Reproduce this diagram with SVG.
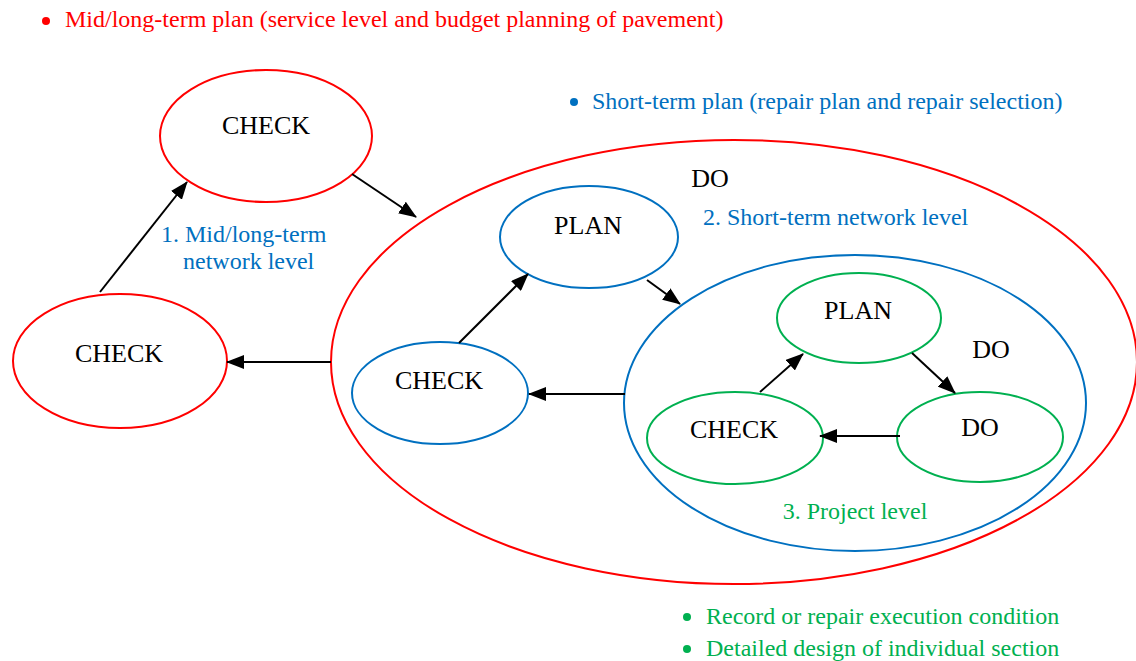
<svg xmlns="http://www.w3.org/2000/svg" width="1136" height="661" viewBox="0 0 1136 661">
<defs>
<style>
.t{font-family:"Liberation Serif","Times New Roman",serif;font-size:24px}
.n{font-family:"Liberation Serif","Times New Roman",serif;font-size:26px;fill:#000;text-anchor:middle}
.red{fill:#FF0000}.blue{fill:#0070C0}.green{fill:#00B050}
.er{fill:none;stroke:#FF0000;stroke-width:2}
.eb{fill:none;stroke:#0070C0;stroke-width:2}
.eg{fill:none;stroke:#00B050;stroke-width:2}
.c{fill:none;stroke:#000;stroke-width:2;marker-end:url(#ah)}
</style>
<marker id="ah" markerUnits="userSpaceOnUse" markerWidth="18" markerHeight="14" viewBox="0 0 18 14" refX="17" refY="7" orient="auto">
<path d="M0,0 L18,7 L0,14 Z" fill="#000"/>
</marker>
</defs>
<rect width="1136" height="661" fill="#fff"/>

<g id="legend-mid">
<circle cx="46" cy="21" r="4" class="red"/>
<text x="65" y="27" class="t red">Mid/long-term plan (service level and budget planning of pavement)</text>
</g>
<g id="legend-short">
<circle cx="574" cy="102" r="4" class="blue"/>
<text x="592" y="109" class="t blue">Short-term plan (repair plan and repair selection)</text>
</g>
<g id="legend-project">
<circle cx="687" cy="617" r="4" class="green"/>
<text x="706" y="624" class="t green">Record or repair execution condition</text>
<circle cx="687" cy="649" r="4" class="green"/>
<text x="706" y="656" class="t green">Detailed design of individual section</text>
</g>

<g id="red-do">
<ellipse cx="734" cy="362" rx="403" ry="222" class="er"/>
<text x="710" y="187" class="n">DO</text>
</g>
<g id="red-check-top">
<ellipse cx="266" cy="136" rx="106" ry="66" class="er"/>
<text x="266" y="134" class="n">CHECK</text>
</g>
<g id="red-check-left">
<ellipse cx="120" cy="361" rx="107" ry="67" class="er"/>
<text x="119" y="362" class="n">CHECK</text>
</g>
<g id="label-1">
<text x="161" y="242" class="t blue">1. Mid/long-term</text>
<text x="183" y="269" class="t blue">network level</text>
</g>

<g id="blue-plan">
<ellipse cx="589" cy="237" rx="89" ry="51" class="eb"/>
<text x="588" y="234" class="n">PLAN</text>
</g>
<g id="blue-check">
<ellipse cx="440" cy="393" rx="88" ry="51" class="eb"/>
<text x="439" y="389" class="n">CHECK</text>
</g>
<g id="blue-do">
<ellipse cx="855" cy="403" rx="231" ry="148" class="eb"/>
<text x="991" y="358" class="n">DO</text>
</g>
<g id="label-2">
<text x="703" y="225" class="t blue">2. Short-term network level</text>
</g>

<g id="green-plan">
<ellipse cx="859" cy="318" rx="82" ry="45" class="eg"/>
<text x="858" y="319" class="n">PLAN</text>
</g>
<g id="green-check">
<ellipse cx="735" cy="438" rx="88" ry="46" class="eg"/>
<text x="734" y="438" class="n">CHECK</text>
</g>
<g id="green-do">
<ellipse cx="980" cy="437" rx="83" ry="45" class="eg"/>
<text x="980" y="436" class="n">DO</text>
</g>
<g id="label-3">
<text x="855" y="519" class="t green" text-anchor="middle">3. Project level</text>
</g>

<g id="connectors">
<line x1="100" y1="292" x2="187" y2="182" class="c"/>
<line x1="352" y1="174" x2="416" y2="217" class="c"/>
<line x1="331" y1="362" x2="227" y2="362" class="c"/>
<line x1="459" y1="343" x2="528" y2="274" class="c"/>
<line x1="647" y1="280" x2="680" y2="304" class="c"/>
<line x1="625" y1="394" x2="529" y2="394" class="c"/>
<line x1="760" y1="392" x2="803" y2="354" class="c"/>
<line x1="912" y1="353" x2="955" y2="393" class="c"/>
<line x1="900" y1="436" x2="820" y2="436" class="c"/>
</g>
</svg>
